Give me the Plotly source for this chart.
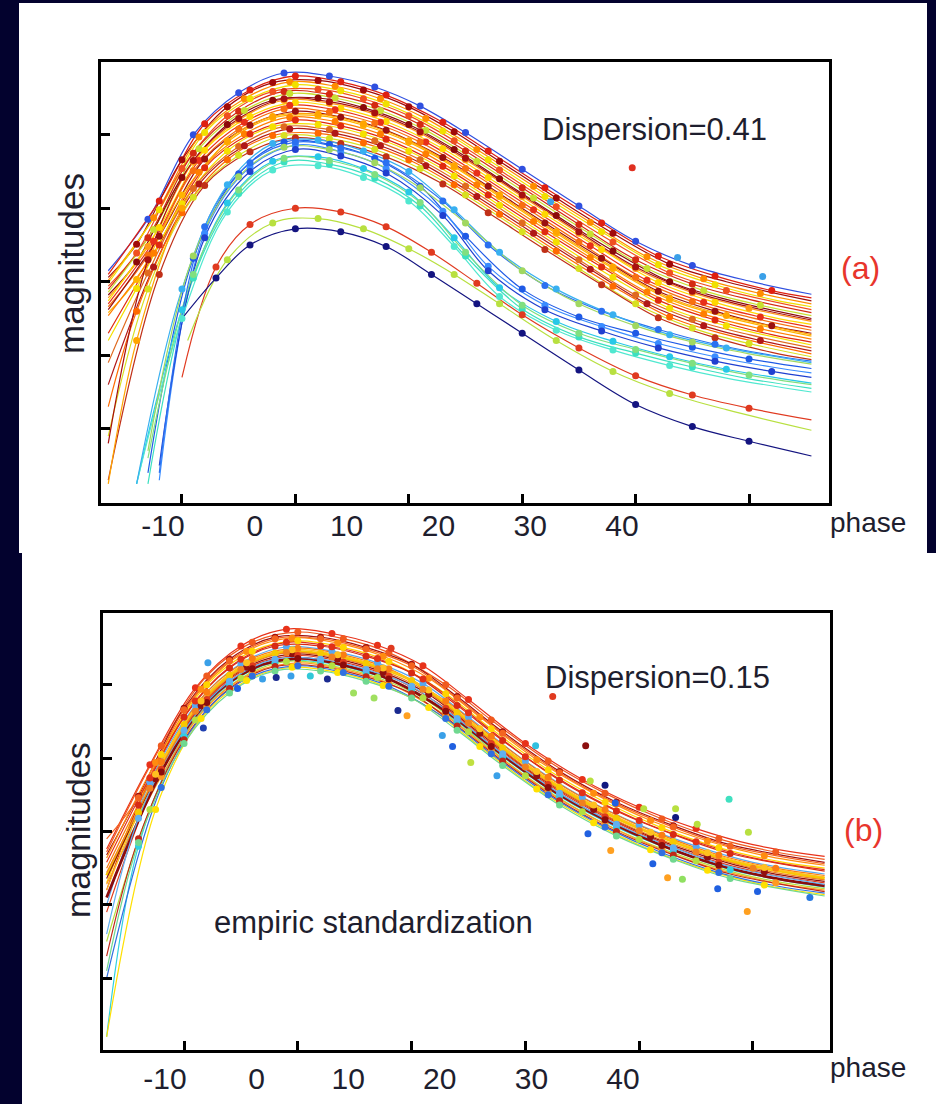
import plotly.graph_objects as go

W, H = 936, 1104
FONT = "Liberation Sans, Arial, sans-serif"
TXT = "#1e1e2e"
NAVY = "#03022e"

PHASE_TICKS = [-10, 0, 10, 20, 30, 40]
PHASE_LABELS = ["-10", "0", "10", "20", "30", "40"]
MAG_TICKS = [0, 1, 2, 3, 4]

# ---------------- phase grids (observation epochs) ----------------
G1 = [-16.5, -13, -9, -5, -1, 3, 7, 11, 15, 20, 25, 30, 35, 40, 45.5]
G2 = [-16.5, -12, -8, -4, 0, 4, 8, 13, 17, 22, 27, 32, 37, 42, 45.5]
G3 = [-16.5, -14, -10, -6, -2, 2, 6, 10, 14, 18, 23, 28, 33, 38, 45.5]
G4 = [-16.5, -12.5, -8.5, -4.5, -0.5, 3.5, 7.5, 11.5, 16, 21, 26, 31, 36, 41, 45.5]
C1 = [-13, -9, -5, -1, 3, 7, 11, 15, 20, 25, 30, 35, 40, 45.5]
C2 = [-12, -8, -4, 0, 4, 8, 13, 17, 22, 27, 32, 37, 42, 45.5]
C3 = [-14, -10, -6, -2, 2, 6, 10, 14, 18, 23, 28, 33, 38, 45.5]
L1 = [-10, -7, -4, 0, 4, 8, 12, 16, 20, 25, 30, 35, 40, 45.5]
L2 = [-9.5, -6, -2, 2, 6, 10, 14, 18, 23, 28, 33, 38, 45.5]

H1 = [-16.8, -13, -9, -5, -1, 3, 7, 11, 15, 20, 25, 30, 35, 40, 46.3]
H2 = [-16.8, -12, -8, -4, 0, 4, 8, 13, 17, 22, 27, 32, 37, 42, 46.3]
H3 = [-16.8, -14, -10, -6, -2, 2, 6, 10, 14, 18, 23, 28, 33, 38, 46.3]
H4 = [-16.8, -12.5, -8.5, -4.5, -0.5, 3.5, 7.5, 11.5, 16, 21, 26, 31, 36, 41, 46.3]

# ---------------- panel (a): raw light curves ----------------
T01 = [2.15, 2.85, 4.0, 4.57, 4.84, 4.8, 4.65, 4.39, 4.03, 3.53, 3.03, 2.55, 2.22, 2.01, 1.83]
T02 = [2.1, 3.1, 4.15, 4.61, 4.8, 4.72, 4.54, 4.17, 3.78, 3.28, 2.8, 2.35, 2.08, 1.88, 1.78]
T03 = [2.06, 2.51, 3.66, 4.38, 4.71, 4.74, 4.61, 4.38, 4.04, 3.64, 3.14, 2.66, 2.24, 2.0, 1.74]
T04 = [2.02, 2.87, 3.97, 4.49, 4.72, 4.66, 4.49, 4.22, 3.8, 3.3, 2.81, 2.34, 2.04, 1.84, 1.7]
T05 = [1.98, 2.98, 4.03, 4.49, 4.68, 4.6, 4.42, 4.05, 3.66, 3.16, 2.68, 2.23, 1.96, 1.76, 1.66]
T06 = [1.94, 2.39, 3.54, 4.26, 4.59, 4.62, 4.49, 4.26, 3.92, 3.52, 3.02, 2.54, 2.12, 1.88, 1.62]
T07 = [1.9, 2.6, 3.75, 4.32, 4.59, 4.55, 4.4, 4.14, 3.78, 3.28, 2.78, 2.3, 1.97, 1.76, 1.58]
T08 = [1.86, 2.71, 3.81, 4.33, 4.56, 4.5, 4.33, 4.06, 3.64, 3.14, 2.65, 2.18, 1.88, 1.68, 1.54]
T09 = [1.82, 2.27, 3.42, 4.14, 4.47, 4.5, 4.37, 4.14, 3.8, 3.4, 2.9, 2.42, 2.0, 1.76, 1.5]
T10 = [1.78, 2.48, 3.63, 4.2, 4.47, 4.43, 4.28, 4.02, 3.66, 3.16, 2.66, 2.18, 1.85, 1.64, 1.46]
T11 = [1.74, 2.74, 3.79, 4.25, 4.44, 4.36, 4.18, 3.81, 3.42, 2.92, 2.44, 1.99, 1.72, 1.52, 1.42]
T12 = [1.7, 2.55, 3.65, 4.17, 4.4, 4.34, 4.17, 3.9, 3.48, 2.98, 2.49, 2.02, 1.72, 1.52, 1.38]
T13 = [1.66, 2.36, 3.51, 4.08, 4.35, 4.31, 4.16, 3.9, 3.54, 3.04, 2.54, 2.06, 1.73, 1.52, 1.34]
T14 = [1.62, 2.62, 3.67, 4.13, 4.32, 4.24, 4.06, 3.69, 3.3, 2.8, 2.32, 1.87, 1.6, 1.4, 1.3]
T15 = [1.58, 2.03, 3.18, 3.9, 4.23, 4.26, 4.13, 3.9, 3.56, 3.16, 2.66, 2.18, 1.76, 1.52, 1.26]
T16 = [1.54, 2.39, 3.49, 4.01, 4.24, 4.18, 4.01, 3.74, 3.32, 2.82, 2.33, 1.86, 1.56, 1.36, 1.22]
T17 = [1.3, 2.5, 3.55, 4.01, 4.2, 4.12, 3.94, 3.57, 3.18, 2.68, 2.2, 1.75, 1.48, 1.28, 1.18]
T18 = [1.2, 1.91, 3.06, 3.78, 4.11, 4.14, 4.01, 3.78, 3.44, 3.04, 2.54, 2.06, 1.64, 1.4, 1.14]
T19 = [0.9, 2.12, 3.27, 3.84, 4.11, 4.07, 3.92, 3.66, 3.3, 2.8, 2.3, 1.82, 1.49, 1.28, 1.1]
T20 = [0.6, 2.2, 3.33, 3.85, 4.08, 4.02, 3.85, 3.58, 3.16, 2.66, 2.17, 1.7, 1.4, 1.2, 1.06]
T21 = [0.3, 1.6, 2.94, 3.66, 3.99, 4.02, 3.89, 3.66, 3.32, 2.92, 2.42, 1.94, 1.52, 1.28, 1.02]
T22 = [-0.1, 1.9, 3.15, 3.72, 3.99, 3.95, 3.8, 3.54, 3.18, 2.68, 2.18, 1.7, 1.37, 1.16, 0.98]
T23 = [-0.7, 2.1, 3.31, 3.77, 3.96, 3.88, 3.7, 3.33, 2.94, 2.44, 1.96, 1.51, 1.24, 1.04, 0.94]
T24 = [-0.75, 1.2, 3.0, 3.92, 4.25, 4.28, 4.15, 3.92, 3.58, 3.18, 2.68, 2.2, 1.78, 1.54, 1.28]
T25 = [-0.2, 2.3, 3.65, 4.22, 4.49, 4.45, 4.3, 4.04, 3.68, 3.18, 2.68, 2.2, 1.87, 1.66, 1.48]
T26 = [-0.6, 2.32, 3.47, 3.9, 3.87, 3.68, 3.3, 2.62, 1.9, 1.52, 1.3, 1.11, 0.95, 0.82]
T27 = [-0.7, 2.66, 3.56, 3.86, 3.77, 3.54, 2.96, 2.21, 1.68, 1.39, 1.16, 0.98, 0.84, 0.76]
T28 = [-0.75, 1.62, 3.07, 3.64, 3.7, 3.54, 3.22, 2.6, 1.92, 1.46, 1.19, 0.98, 0.81, 0.62]
T29 = [-0.75, 2.05, 3.2, 3.63, 3.6, 3.41, 3.03, 2.35, 1.63, 1.25, 1.03, 0.84, 0.68, 0.55]
T30 = [-0.5, 2.6, 3.5, 3.8, 3.71, 3.48, 2.9, 2.15, 1.62, 1.33, 1.1, 0.92, 0.78, 0.7]
T31 = [-0.75, 1.5, 2.95, 3.52, 3.58, 3.42, 3.1, 2.48, 1.8, 1.34, 1.07, 0.86, 0.69, 0.5]
T32 = [-0.4, 2.1, 3.25, 3.68, 3.65, 3.46, 3.08, 2.4, 1.68, 1.3, 1.08, 0.89, 0.73, 0.6]
T33 = [-0.6, 2.75, 3.62, 3.9, 3.82, 3.62, 3.1, 2.5, 1.95, 1.6, 1.35, 1.15, 1.0, 0.92]
T34 = [-0.75, 1.9, 3.32, 3.88, 3.93, 3.78, 3.5, 2.98, 2.4, 1.9, 1.55, 1.28, 1.1, 0.9]
T35 = [-0.3, 2.35, 3.43, 3.83, 3.8, 3.62, 3.28, 2.8, 2.15, 1.7, 1.4, 1.18, 1.02, 0.88]
T36 = [0.7, 2.2, 2.78, 3.0, 2.95, 2.75, 2.4, 1.98, 1.55, 1.1, 0.72, 0.46, 0.28, 0.12]
T37 = [1.2, 2.3, 2.8, 2.86, 2.72, 2.45, 2.1, 1.7, 1.2, 0.78, 0.48, 0.26, -0.02]
T38 = [1.5, 2.05, 2.5, 2.72, 2.68, 2.48, 2.1, 1.7, 1.3, 0.8, 0.33, 0.03, -0.17, -0.37]

TOP_MAGS = [T01, T02, T03, T04, T05, T06, T07, T08, T09, T10, T11, T12, T13,
            T14, T15, T16, T17, T18, T19, T20, T21, T22, T23, T24, T25,
            T26, T27, T28, T29, T30, T31, T32, T33, T34, T35, T36, T37, T38]
TOP_GRIDS = [G1, G2, G3, G4, G2, G3, G1, G4, G3, G1, G2, G4, G1,
             G2, G3, G4, G2, G3, G1, G4, G3, G1, G2, G3, G1,
             C1, C2, C3, C1, C2, C3, C1, C2, C3, C1, L1, L2, L1]
TOP_COLORS = ["#3050e0", "#e02010", "#a00a0a", "#ff8c00", "#f0e000", "#f05020", "#d42a12",
              "#c8e030", "#8b0a0a", "#ff9a1a", "#ffd800", "#e8301a", "#f87010",
              "#9a1010", "#ffb400", "#ff7f00", "#e02a10", "#f5e000", "#e06a20", "#b01818",
              "#ff6a00", "#d8e020", "#c03018", "#ffa500", "#a81010",
              "#1f5ae6", "#3a8cff", "#28c8e8", "#3ce0c0", "#2040d0", "#50e8d0", "#80e080",
              "#2a70f0", "#38b0f0", "#a0d860",
              "#e03a20", "#b8e040", "#141480"]

TOP_OUT_PHASE = [29.7, 33.7, 41.2, 22.5]
TOP_OUT_MAG = [3.55, 2.33, 2.07, 3.09]
TOP_OUT_COLOR = ["#e03020", "#3aa0e8", "#3aa0e8", "#3aa0e8"]

# ---------------- panel (b): standardized light curves ----------------
B01 = [1.76, 2.91, 3.96, 4.53, 4.76, 4.7, 4.54, 4.26, 3.8, 3.2, 2.71, 2.33, 2.04, 1.82, 1.66]
B02 = [1.72, 3.17, 4.12, 4.58, 4.72, 4.63, 4.44, 4.0, 3.52, 2.96, 2.52, 2.17, 1.9, 1.72, 1.62]
B03 = [1.68, 2.48, 3.68, 4.35, 4.65, 4.65, 4.51, 4.28, 3.84, 3.36, 2.82, 2.4, 2.08, 1.82, 1.58]
B04 = [1.64, 2.94, 3.94, 4.46, 4.64, 4.57, 4.39, 4.09, 3.56, 2.98, 2.52, 2.15, 1.87, 1.67, 1.54]
B05 = [1.3, 3.05, 4.0, 4.46, 4.6, 4.51, 4.32, 3.88, 3.4, 2.84, 2.4, 2.05, 1.78, 1.6, 1.5]
B06 = [1.2, 2.36, 3.56, 4.23, 4.53, 4.53, 4.39, 4.16, 3.72, 3.24, 2.7, 2.28, 1.96, 1.7, 1.46]
B07 = [1.0, 2.67, 3.72, 4.29, 4.52, 4.46, 4.3, 4.02, 3.56, 2.96, 2.47, 2.09, 1.8, 1.58, 1.42]
B08 = [1.5, 2.95, 3.9, 4.36, 4.5, 4.41, 4.22, 3.78, 3.3, 2.74, 2.3, 1.95, 1.68, 1.5, 1.4]
B09 = [1.4, 2.26, 3.46, 4.13, 4.43, 4.43, 4.29, 4.06, 3.62, 3.14, 2.6, 2.18, 1.86, 1.6, 1.36]
B10 = [1.36, 2.72, 3.72, 4.24, 4.42, 4.35, 4.17, 3.87, 3.34, 2.76, 2.3, 1.93, 1.65, 1.45, 1.32]
B11 = [0.9, 2.85, 3.8, 4.26, 4.4, 4.31, 4.12, 3.68, 3.2, 2.64, 2.2, 1.85, 1.58, 1.4, 1.3]
B12 = [-0.8, 1.8, 3.3, 4.01, 4.31, 4.31, 4.17, 3.94, 3.5, 3.02, 2.48, 2.06, 1.74, 1.48, 1.24]
B13 = [0.5, 2.3, 3.52, 4.09, 4.32, 4.26, 4.1, 3.82, 3.36, 2.76, 2.27, 1.89, 1.6, 1.38, 1.22]
B14 = [1.28, 2.75, 3.7, 4.16, 4.3, 4.21, 4.02, 3.58, 3.1, 2.54, 2.1, 1.75, 1.48, 1.3, 1.2]
B15 = [0.3, 1.9, 3.25, 3.95, 4.25, 4.25, 4.11, 3.88, 3.44, 2.96, 2.42, 2.0, 1.68, 1.42, 1.18]
B16 = [-0.8, 2.3, 3.54, 4.06, 4.24, 4.17, 3.99, 3.69, 3.16, 2.58, 2.12, 1.75, 1.47, 1.27, 1.14]
B17 = [0.0, 2.6, 3.66, 4.12, 4.26, 4.17, 3.98, 3.54, 3.06, 2.5, 2.06, 1.71, 1.44, 1.26, 1.16]
B18 = [0.1, 1.85, 3.2, 3.89, 4.19, 4.19, 4.05, 3.82, 3.38, 2.9, 2.36, 1.94, 1.62, 1.36, 1.12]
B19 = [1.1, 2.81, 3.76, 4.22, 4.36, 4.27, 4.08, 3.64, 3.16, 2.6, 2.16, 1.81, 1.54, 1.36, 1.26]
B20 = [1.9, 2.46, 3.66, 4.33, 4.63, 4.63, 4.49, 4.26, 3.82, 3.34, 2.8, 2.38, 2.06, 1.8, 1.56]
B21 = [1.58, 2.73, 3.78, 4.35, 4.58, 4.52, 4.36, 4.08, 3.62, 3.02, 2.53, 2.15, 1.86, 1.64, 1.48]
B22 = [1.2, 2.78, 3.78, 4.3, 4.48, 4.41, 4.23, 3.93, 3.4, 2.82, 2.36, 1.99, 1.71, 1.51, 1.38]
B23 = [0.6, 2.18, 3.38, 4.05, 4.35, 4.35, 4.21, 3.98, 3.54, 3.06, 2.52, 2.1, 1.78, 1.52, 1.28]
B24 = [1.44, 2.59, 3.64, 4.21, 4.44, 4.38, 4.22, 3.94, 3.48, 2.88, 2.39, 2.01, 1.72, 1.5, 1.34]

BOT_MAGS = [B01, B02, B03, B04, B05, B06, B07, B08, B09, B10, B11, B12,
            B13, B14, B15, B16, B17, B18, B19, B20, B21, B22, B23, B24]
BOT_GRIDS = [H1, H2, H3, H4, H2, H3, H1, H2, H3, H4, H2, H3,
             H1, H2, H3, H4, H2, H3, H2, H3, H1, H4, H3, H1]
BOT_COLORS = ["#e8321a", "#f05a1e", "#a01010", "#ff8c10", "#ffd400", "#d82a14", "#58a8f0",
              "#fb7d12", "#f7c900", "#901010", "#e03c1c", "#30d0e0",
              "#b4e040", "#ff9a20", "#c02818", "#ffe000", "#3070e0", "#70d890",
              "#8c0c0c", "#f46420", "#e23018", "#ffc020", "#60b0f0", "#f08020"]
BOT_WIDTHS = [1.2, 1.2, 1.2, 1.2, 1.2, 1.2, 1.2, 1.2, 2.8, 1.2, 1.2, 1.2,
              1.2, 1.2, 1.2, 1.2, 1.2, 1.2, 2.8, 1.2, 1.2, 1.2, 1.2, 1.2]

BOT_OUT_PHASE = [-1.9, -0.6, 1.1, 2.6, -3.1, -5.3, 4.9, 6.7, 8.8, 9.6, 12.7, 13.6, 15.2,
                 -8.3, -7.9, 8.2, 17.5, 25.7, 27.0, 27.9, 30.4, 33.2, 33.2, 35.1, 39.6,
                 25.5, 27.5, 31.2, 32.5, 33.8, 36.9, 40.4, 39.5, 45.0, 37.9, 20.9, 25.3, 22.4]
BOT_OUT_MAG = [4.10, 4.12, 4.12, 4.08, 4.08, 3.95, 3.89, 3.82, 3.65, 3.58, 3.31, 3.16, 2.94,
               3.41, 4.30, 4.50, 2.76, 2.69, 2.63, 2.39, 2.31, 2.31, 2.19, 2.10, 1.99,
               1.97, 1.74, 1.56, 1.37, 1.35, 1.22, 1.18, 0.91, 1.10, 2.44, 3.17, 3.17, 3.84]
BOT_OUT_COLOR = ["#1a2a90", "#3aa0e8", "#30c8d8", "#1a2a90", "#3aa0e8", "#2060e0", "#a0e060",
                 "#a0e060", "#1a2a90", "#ffa020", "#3aa0e8", "#2060e0", "#c0e040",
                 "#2040b0", "#3aa0e8", "#e03a20", "#3aa0e8", "#b8e040", "#101880", "#2060e0",
                 "#b8e040", "#b8e040", "#101880", "#b8e040", "#b8e040",
                 "#2060e0", "#ffa020", "#2060e0", "#ffa020", "#90e060", "#2060e0", "#2060e0",
                 "#ffa020", "#2878e0", "#40e0c0", "#30c0e0", "#8c1010", "#e03a20"]

fig = go.Figure()


def add_panel(xa, ya, grids, mags, colors, widths=None):
    for i, (g, m, c) in enumerate(zip(grids, mags, colors)):
        w = widths[i] if widths else 1.2
        fig.add_trace(go.Scatter(x=g, y=m, mode="lines", xaxis=xa, yaxis=ya,
                                 line=dict(color=c, width=w, shape="spline", smoothing=1.0),
                                 hoverinfo="skip", showlegend=False))
    for i, (g, m, c) in enumerate(zip(grids, mags, colors)):
        stop = -1 if i % 2 else -2
        fig.add_trace(go.Scatter(x=g[1:stop], y=m[1:stop], mode="markers", xaxis=xa, yaxis=ya,
                                 marker=dict(color=c, size=7, line=dict(width=0)),
                                 hoverinfo="skip", showlegend=False))


add_panel("x", "y", TOP_GRIDS, TOP_MAGS, TOP_COLORS)
fig.add_trace(go.Scatter(x=TOP_OUT_PHASE, y=TOP_OUT_MAG, mode="markers", xaxis="x", yaxis="y",
                         marker=dict(color=TOP_OUT_COLOR, size=7), showlegend=False))
add_panel("x2", "y2", BOT_GRIDS, BOT_MAGS, BOT_COLORS, BOT_WIDTHS)
fig.add_trace(go.Scatter(x=BOT_OUT_PHASE, y=BOT_OUT_MAG, mode="markers", xaxis="x2", yaxis="y2",
                         marker=dict(color=BOT_OUT_COLOR, size=7), showlegend=False))
# empty traces that carry the (offset) tick-label axes
fig.add_trace(go.Scatter(x=[], y=[], xaxis="x3", yaxis="y", showlegend=False))
fig.add_trace(go.Scatter(x=[], y=[], xaxis="x4", yaxis="y2", showlegend=False))

frame = dict(showgrid=False, zeroline=False, showline=True, mirror=True, linecolor="black",
             linewidth=3, ticks="inside", ticklen=9, tickwidth=3, tickcolor="black",
             showticklabels=False)
labax = dict(showgrid=False, zeroline=False, showline=False, ticks="", showticklabels=True,
             tickvals=PHASE_TICKS, ticktext=PHASE_LABELS,
             tickfont=dict(family=FONT, size=30, color=TXT))

fig.update_layout(
    width=W, height=H, margin=dict(l=0, r=0, t=0, b=0),
    paper_bgcolor=NAVY, plot_bgcolor="white", showlegend=False, hovermode=False,
    font=dict(family=FONT, color=TXT),
    xaxis=dict(domain=[101 / W, 829 / W], range=[-17.14, 47.05], tickvals=PHASE_TICKS,
               anchor="y", **frame),
    yaxis=dict(domain=[1 - 503 / H, 1 - 62 / H], range=[-1.01, 4.99], tickvals=MAG_TICKS,
               anchor="x", **frame),
    xaxis2=dict(domain=[103 / W, 830 / W], range=[-17.12, 46.77], tickvals=PHASE_TICKS,
                anchor="y2", **frame),
    yaxis2=dict(domain=[1 - 1050 / H, 1 - 613 / H], range=[-0.98, 4.98], tickvals=MAG_TICKS,
                anchor="x2", **frame),
    xaxis3=dict(domain=[101 / W, 829 / W], range=[-16.75, 62.55], overlaying="x",
                anchor="y", ticklabelstandoff=2, **labax),
    xaxis4=dict(domain=[103 / W, 830 / W], range=[-16.77, 62.6], overlaying="x2",
                anchor="y2", ticklabelstandoff=8, **labax),
    shapes=[
        dict(type="rect", xref="paper", yref="paper", x0=19 / W, x1=927 / W,
             y0=1 - 553 / H, y1=1 - 3 / H, fillcolor="white", line=dict(width=0), layer="below"),
        dict(type="rect", xref="paper", yref="paper", x0=22 / W, x1=1,
             y0=0, y1=1 - 553 / H, fillcolor="white", line=dict(width=0), layer="below"),
    ],
)


def note(text, x, y, size=31, color=TXT, xanchor="left", angle=0):
    fig.add_annotation(text=text, x=x / W, y=1 - y / H, xref="paper", yref="paper",
                       xanchor=xanchor, yanchor="middle", showarrow=False, textangle=angle,
                       font=dict(family=FONT, size=size, color=color))


note("Dispersion=0.41", 540, 130)
note("(a)", 860, 268, size=32, color="#e8352c", xanchor="center")
note("phase", 828, 523, size=28)
note("magnitudes", 72, 264, size=35, xanchor="center", angle=-90)
note("Dispersion=0.15", 543, 677)
note("(b)", 863, 830, size=32, color="#e8352c", xanchor="center")
note("phase", 828, 1067, size=28)
note("magnitudes", 78, 830, size=34, xanchor="center", angle=-90)
note("empiric standardization", 212, 922)

fig.write_html("out.html")
